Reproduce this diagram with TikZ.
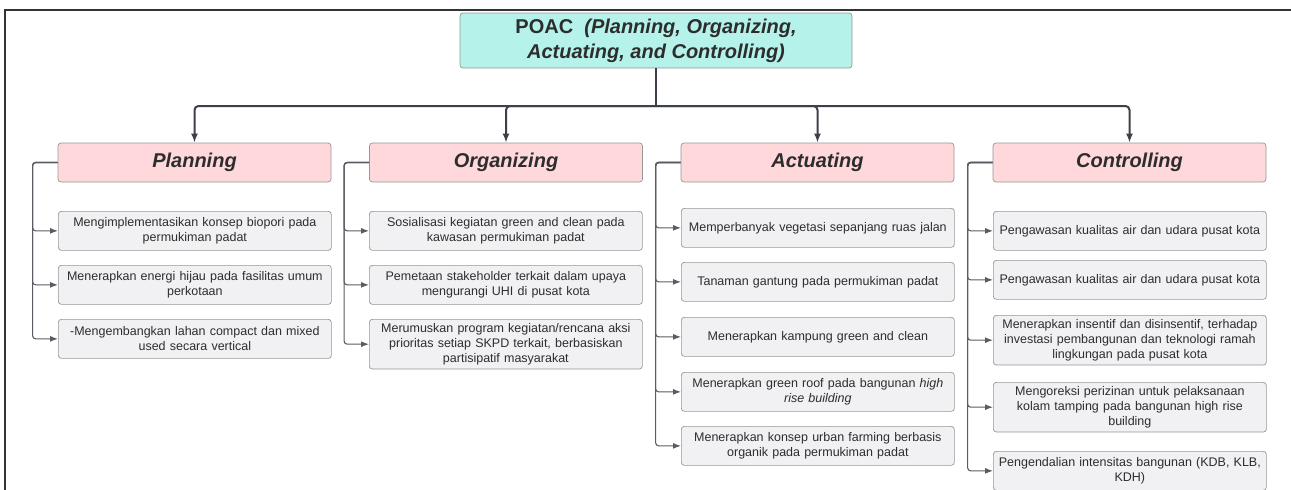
\documentclass[tikz,border=0pt]{standalone}
\usepackage{fontspec}
\setmainfont{Liberation Sans}
\usetikzlibrary{arrows.meta}
\definecolor{rootfill}{RGB}{180,242,234}
\definecolor{catfill}{RGB}{255,216,220}
\definecolor{itemfill}{RGB}{241,241,243}
\definecolor{edge}{RGB}{150,150,150}
\definecolor{wire}{RGB}{60,64,72}
\definecolor{ink}{RGB}{45,45,45}
\tikzset{every picture/.style={line width=0.7pt}}
\tikzset{
  rootbox/.style={draw=edge,fill=rootfill,rounded corners=3pt,minimum width=392pt,minimum height=55pt,align=center,text=ink,font=\fontsize{20}{25}\selectfont\bfseries},
  catbox/.style={draw=edge,fill=catfill,rounded corners=3pt,minimum width=273pt,minimum height=39pt,text=ink,font=\fontsize{20}{24}\selectfont\bfseries\itshape},
  itembox/.style={draw=edge,fill=itemfill,rounded corners=3pt,anchor=north west,text width=265pt,inner xsep=4pt,inner ysep=4pt,minimum height=39pt,align=center,text=ink,font=\fontsize{12.5}{15}\selectfont},
  trunk/.style={draw=wire,line width=2pt,rounded corners=4pt},
  branch/.style={draw=wire!85,line width=1.1pt,rounded corners=3pt,-{Latex[length=8pt,width=6pt]}}
}

\begin{document}
\begin{tikzpicture}[x=1pt,y=1pt,yscale=-1,xscale=1]
\useasboundingbox (0,0) rectangle (1291,490);

%Frame
\draw[line width=1.5pt,draw=black!80] (5,490) -- (5,10) -- (1291,10);

%Root
\node[rootbox] (root) at (656,40.5) {POAC\ \ \textit{(Planning, Organizing,}\\\textit{Actuating, and Controlling)}};

%Categories
\node[catbox] (plan) at (194.5,162.5) {Planning};
\node[catbox] (org) at (506,162.5) {Organizing};
\node[catbox] (act) at (817.5,162.5) {Actuating};
\node[catbox] (ctrl) at (1129.5,162.5) {Controlling};

%Trunk lines
\coordinate (hub) at (656,106);
\draw[trunk] (root.south) -- (hub);
\draw[trunk,-{Latex[length=9pt,width=7pt]}] (hub) -| (plan.north);
\draw[trunk,-{Latex[length=9pt,width=7pt]}] (hub) -| (org.north);
\draw[trunk,-{Latex[length=9pt,width=7pt]}] (hub) -| (act.north);
\draw[trunk,-{Latex[length=9pt,width=7pt]}] (hub) -| (ctrl.north);

%Planning items
\node[itembox] (plan1) at (58,211) {Mengimplementasikan konsep biopori pada\\permukiman padat};
\node[itembox] (plan2) at (58,265) {Menerapkan energi hijau pada fasilitas umum\\perkotaan};
\node[itembox] (plan3) at (58,319) {-Mengembangkan lahan compact dan mixed\\used secara vertical};

%Organizing items
\node[itembox] (org1) at (369,211) {Sosialisasi kegiatan green and clean pada\\kawasan permukiman padat};
\node[itembox] (org2) at (369,265) {Pemetaan stakeholder terkait dalam upaya\\mengurangi UHI di pusat kota};
\node[itembox] (org3) at (369,319) {Merumuskan program kegiatan/rencana aksi\\prioritas setiap SKPD terkait, berbasiskan\\partisipatif masyarakat};

%Actuating items
\node[itembox] (act1) at (681,208) {Memperbanyak vegetasi sepanjang ruas jalan};
\node[itembox] (act2) at (681,262) {Tanaman gantung pada permukiman padat};
\node[itembox] (act3) at (681,317) {Menerapkan kampung green and clean};
\node[itembox] (act4) at (681,372) {Menerapkan green roof pada bangunan \textit{high}\\\textit{rise building}};
\node[itembox] (act5) at (681,426) {Menerapkan konsep urban farming berbasis\\organik pada permukiman padat};

%Controlling items
\node[itembox] (ctrl1) at (993,211) {Pengawasan kualitas air dan udara pusat kota};
\node[itembox] (ctrl2) at (993,260) {Pengawasan kualitas air dan udara pusat kota};
\node[itembox] (ctrl3) at (993,315) {Menerapkan insentif dan disinsentif, terhadap\\investasi pembangunan dan teknologi ramah\\lingkungan pada pusat kota};
\node[itembox] (ctrl4) at (993,382) {Mengoreksi perizinan untuk pelaksanaan\\kolam tamping pada bangunan high rise\\building};
\node[itembox] (ctrl5) at (993,451) {Pengendalian intensitas bangunan (KDB, KLB,\\KDH)};

%Branch lines
\draw[branch] (plan.west) -- ++(-25,0) |- (plan1.west);
\draw[branch] (plan.west) -- ++(-25,0) |- (plan2.west);
\draw[branch] (plan.west) -- ++(-25,0) |- (plan3.west);

\draw[branch] (org.west) -- ++(-25,0) |- (org1.west);
\draw[branch] (org.west) -- ++(-25,0) |- (org2.west);
\draw[branch] (org.west) -- ++(-25,0) |- (org3.west);

\draw[branch] (act.west) -- ++(-25,0) |- (act1.west);
\draw[branch] (act.west) -- ++(-25,0) |- (act2.west);
\draw[branch] (act.west) -- ++(-25,0) |- (act3.west);
\draw[branch] (act.west) -- ++(-25,0) |- (act4.west);
\draw[branch] (act.west) -- ++(-25,0) |- (act5.west);

\draw[branch] (ctrl.west) -- ++(-25,0) |- (ctrl1.west);
\draw[branch] (ctrl.west) -- ++(-25,0) |- (ctrl2.west);
\draw[branch] (ctrl.west) -- ++(-25,0) |- (ctrl3.west);
\draw[branch] (ctrl.west) -- ++(-25,0) |- (ctrl4.west);
\draw[branch] (ctrl.west) -- ++(-25,0) |- (ctrl5.west);

\end{tikzpicture}
\end{document}
